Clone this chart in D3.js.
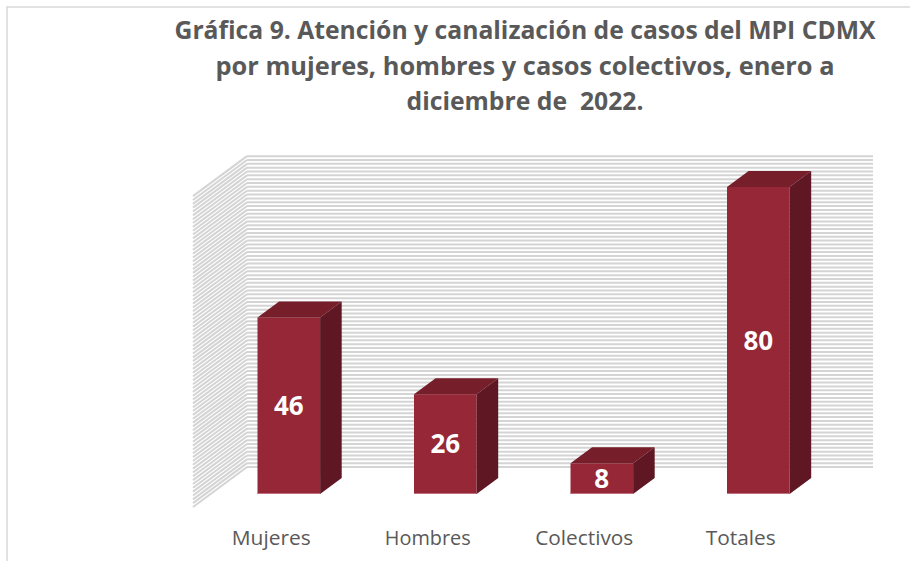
<!DOCTYPE html>
<html>
<head>
<meta charset="utf-8">
<script src="https://cdn.jsdelivr.net/npm/d3@7"></script>
<style>
  body { margin: 0; background: #fff; }
  svg { display: block; }
  text { white-space: pre; }
</style>
</head>
<body>
<svg id="chart"></svg>
<script>
const categories = ["Mujeres", "Hombres", "Colectivos", "Totales"];
const values = [46, 26, 8, 80];
const titleLines = [
  "Gráfica 9. Atención y canalización de casos del MPI CDMX",
  "por mujeres, hombres y casos colectivos, enero a",
  "diciembre de  2022."
];
const wallMax = 81;

const width = 910, height = 561;
// depth of the 3D floor in screen pixels (front -> back)
const depthX = 54, depthY = -40;
const barZ0 = 0.325, barZ1 = 0.725;

const svg = d3.select("#chart").attr("width", width).attr("height", height);

// frame
svg.append("path")
  .attr("d", `M7,${height} L7,7 L${width},7`)
  .attr("fill", "none").attr("stroke", "#d9d9d9").attr("stroke-width", 1.5);

const x = d3.scaleBand().domain(categories).range([193, 819])
  .paddingInner(0.6).paddingOuter(0.3);
const y = d3.scaleLinear().domain([0, 80]).range([507, 200]);

const px = (sx, z) => sx + z * depthX;
const py = (sy, z) => sy + z * depthY;

// walls
const x0 = x.range()[0], x1 = x.range()[1];
const grid = d3.range(0, wallMax + 1, 1);
const walls = svg.append("g").attr("stroke", "#d4d4d4").attr("stroke-width", 2);
walls.selectAll("line.back").data(grid).join("line")
  .attr("class", "back")
  .attr("x1", px(x0, 1)).attr("x2", px(x1, 1))
  .attr("y1", d => py(y(d), 1)).attr("y2", d => py(y(d), 1));
walls.selectAll("line.side").data(grid).join("line")
  .attr("class", "side")
  .attr("x1", px(x0, 0)).attr("x2", px(x0, 1))
  .attr("y1", d => y(d)).attr("y2", d => py(y(d), 1));

// bars
const bars = svg.append("g").selectAll("g").data(categories).join("g");
const pts = a => a.map(p => p.join(",")).join(" ");
bars.each(function(c, i) {
  const g = d3.select(this);
  const l = x(c), r = x(c) + x.bandwidth();
  const top = y(values[i]), bot = y(0);
  // front
  g.append("rect")
    .attr("x", px(l, barZ0)).attr("y", py(top, barZ0))
    .attr("width", r - l).attr("height", bot - top)
    .attr("fill", "#952736");
  g.append("line")
    .attr("x1", px(l, barZ0)).attr("x2", px(r, barZ0))
    .attr("y1", py(bot, barZ0) - 0.5).attr("y2", py(bot, barZ0) - 0.5)
    .attr("stroke", "#c0707c").attr("stroke-width", 1);
  // top
  g.append("polygon")
    .attr("points", pts([
      [px(l, barZ0), py(top, barZ0)], [px(r, barZ0), py(top, barZ0)],
      [px(r, barZ1), py(top, barZ1)], [px(l, barZ1), py(top, barZ1)]]))
    .attr("fill", "#761e2a");
  // side
  g.append("polygon")
    .attr("points", pts([
      [px(r, barZ0), py(top, barZ0)], [px(r, barZ1), py(top, barZ1)],
      [px(r, barZ1), py(bot, barZ1)], [px(r, barZ0), py(bot, barZ0)]]))
    .attr("fill", "#5f1823");
  // value label
  g.append("text")
    .attr("x", px((l + r) / 2, barZ0))
    .attr("y", py((top + bot) / 2, barZ0))
    .attr("dy", "0.36em")
    .attr("text-anchor", "middle")
    .attr("font-family", "'Open Sans', sans-serif")
    .attr("font-weight", "bold").attr("font-size", 26)
    .attr("fill", "#fff")
    .text(values[i]);
});

// category labels
const labelWidths = [79, 86, 98, 70];
svg.append("g").selectAll("text").data(categories).join("text")
  .attr("x", d => x(d) + x.bandwidth() / 2)
  .attr("y", 545)
  .attr("text-anchor", "middle")
  .attr("font-family", "'Open Sans', sans-serif")
  .attr("font-size", 20)
  .attr("fill", "#595959")
  .attr("textLength", (d, i) => labelWidths[i])
  .attr("lengthAdjust", "spacingAndGlyphs")
  .text(d => d);

// title
const titleWidths = [701, 619, 237];
svg.append("g").selectAll("text").data(titleLines).join("text")
  .attr("x", 525)
  .attr("y", (d, i) => 39 + i * 35.5)
  .attr("text-anchor", "middle")
  .attr("font-family", "'Open Sans', sans-serif")
  .attr("font-weight", "bold")
  .attr("font-size", 25)
  .attr("fill", "#595959")
  .attr("textLength", (d, i) => titleWidths[i])
  .attr("lengthAdjust", "spacingAndGlyphs")
  .text(d => d);
</script>
</body>
</html>
